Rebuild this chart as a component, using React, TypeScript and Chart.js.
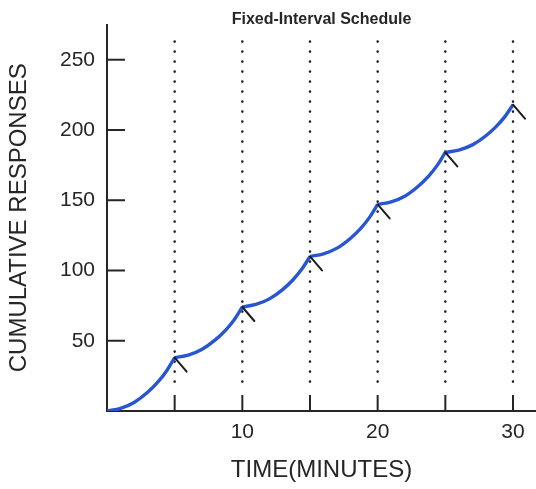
import React, { useEffect, useRef } from 'react';
import { Chart, registerables } from 'chart.js';

Chart.register(...registerables);

// Reinforcement (interval end) times in minutes
const reinforcementTimes = [5, 10, 15, 20, 25, 30];

// Cumulative record (time in minutes, cumulative responses)
const timeMinutes = [
  0, 1, 2, 3, 3.75, 4.4, 5,
  6, 7, 8, 8.75, 9.4, 10,
  11, 12, 13, 13.75, 14.4, 15,
  16, 17, 18, 18.75, 19.4, 20,
  21, 22, 23, 23.75, 24.4, 25,
  26, 27, 28, 28.75, 29.4, 30,
];
const cumulativeResponses = [
  0, 1.9, 6.1, 13.3, 20.5, 28.5, 38,
  39.8, 43.8, 50.6, 57.4, 65, 74,
  75.8, 79.8, 86.6, 93.4, 101, 110,
  111.9, 115.9, 123, 130, 137.8, 147,
  148.9, 152.9, 160, 167, 174.8, 184,
  185.7, 189.4, 195.9, 202.4, 209.5, 218,
];

const xTickValues = [0, 5, 10, 15, 20, 25, 30];
const xTickLabels = [10, 20, 30];
const yTickValues = [0, 50, 100, 150, 200, 250];
const yTickLabels = [50, 100, 150, 200, 250];

const FONT = '"Liberation Sans", Arial, Helvetica, sans-serif';
const INK = '#262626';

export default function App() {
  const canvasRef = useRef<HTMLCanvasElement | null>(null);

  useEffect(() => {
    document.body.style.margin = '0';
    const canvas = canvasRef.current;
    if (!canvas) return;

    // split the record into scallops, one per interval
    const starts = [0, ...reinforcementTimes.slice(0, -1)];
    const segments = reinforcementTimes.map((end, i) => {
      const start = starts[i];
      const pts: { x: number; y: number }[] = [];
      timeMinutes.forEach((t, j) => {
        if (t >= start && t <= end) pts.push({ x: t, y: cumulativeResponses[j] });
      });
      return pts;
    });

    const decor = {
      id: 'fiDecor',
      beforeDatasetsDraw(chart: any) {
        const { ctx, chartArea } = chart;
        const xs = chart.scales.x;
        const ys = chart.scales.y;
        ctx.save();
        ctx.strokeStyle = INK;
        ctx.lineWidth = 2;
        // inward tick marks
        reinforcementTimes.forEach((t) => {
          const px = xs.getPixelForValue(t);
          ctx.beginPath();
          ctx.moveTo(px, chartArea.bottom);
          ctx.lineTo(px, chartArea.bottom - 16);
          ctx.stroke();
        });
        yTickLabels.forEach((v) => {
          const py = ys.getPixelForValue(v);
          ctx.beginPath();
          ctx.moveTo(chartArea.left, py);
          ctx.lineTo(chartArea.left + 18, py);
          ctx.stroke();
        });
        // dotted interval lines
        ctx.setLineDash([0, 10]);
        ctx.lineCap = 'round';
        ctx.lineWidth = 2.6;
        ctx.strokeStyle = '#222';
        reinforcementTimes.forEach((t) => {
          const px = xs.getPixelForValue(t);
          ctx.beginPath();
          ctx.moveTo(px, chartArea.top + 17);
          ctx.lineTo(px, chartArea.bottom - 22);
          ctx.stroke();
        });
        ctx.restore();
      },
      afterDatasetsDraw(chart: any) {
        const { ctx } = chart;
        const xs = chart.scales.x;
        const ys = chart.scales.y;
        ctx.save();
        ctx.strokeStyle = '#1c1c1c';
        ctx.lineWidth = 2;
        ctx.lineCap = 'round';
        reinforcementTimes.forEach((t) => {
          const idx = timeMinutes.indexOf(t);
          const px = xs.getPixelForValue(t);
          const py = ys.getPixelForValue(cumulativeResponses[idx]);
          ctx.beginPath();
          ctx.moveTo(px, py);
          ctx.lineTo(px + 12, py + 14);
          ctx.stroke();
        });
        ctx.restore();
      },
    };

    const chart = new Chart(canvas, {
      type: 'line',
      data: {
        datasets: segments.map((pts, i) => ({
          label: 'Interval ' + (i + 1),
          data: pts,
          borderColor: '#2856d2',
          borderWidth: 3.4,
          pointRadius: 0,
          fill: false,
          cubicInterpolationMode: 'monotone' as const,
        })),
      },
      options: {
        animation: false,
        responsive: false,
        maintainAspectRatio: false,
        layout: { padding: 0 },
        plugins: {
          legend: { display: false },
          tooltip: { enabled: false },
          title: {
            display: true,
            text: 'Fixed-Interval Schedule',
            color: INK,
            fullSize: false,
            font: { family: FONT, size: 16, weight: 'bold', lineHeight: 0.6 },
            padding: { top: 15, bottom: 0 },
          },
        },
        scales: {
          x: {
            type: 'linear',
            min: 0,
            max: 31.7,
            grid: { display: false, drawTicks: false },
            border: { display: true, color: INK, width: 2 },
            afterBuildTicks: (s: any) => {
              s.ticks = xTickValues.map((v) => ({ value: v }));
            },
            ticks: {
              autoSkip: false,
              maxRotation: 0,
              padding: 9,
              color: INK,
              font: { family: FONT, size: 21 },
              callback: (v: any) => (xTickLabels.includes(Number(v)) ? String(v) : ''),
            },
            title: {
              display: true,
              text: 'TIME(MINUTES)',
              color: INK,
              font: { family: FONT, size: 24 },
              padding: { top: 0, bottom: 4 },
            },
            afterFit: (s: any) => {
              s.height = 78;
            },
          },
          y: {
            type: 'linear',
            min: 0,
            max: 275,
            grid: { display: false, drawTicks: false },
            border: { display: true, color: INK, width: 2 },
            afterBuildTicks: (s: any) => {
              s.ticks = yTickValues.map((v) => ({ value: v }));
            },
            ticks: {
              autoSkip: false,
              padding: 12,
              color: INK,
              font: { family: FONT, size: 21 },
              callback: (v: any) => (yTickLabels.includes(Number(v)) ? String(v) : ''),
            },
            title: {
              display: true,
              text: 'CUMULATIVE RESPONSES',
              color: INK,
              font: { family: FONT, size: 24 },
              padding: { top: 5, bottom: 0 },
            },
            afterFit: (s: any) => {
              s.width = 107;
            },
          },
        },
      },
      plugins: [decor],
    });

    return () => {
      chart.destroy();
    };
  }, []);

  return (
    <div style={{ width: 536, height: 489, background: '#fff' }}>
      <canvas ref={canvasRef} width={536} height={489} style={{ display: 'block' }} />
    </div>
  );
}
